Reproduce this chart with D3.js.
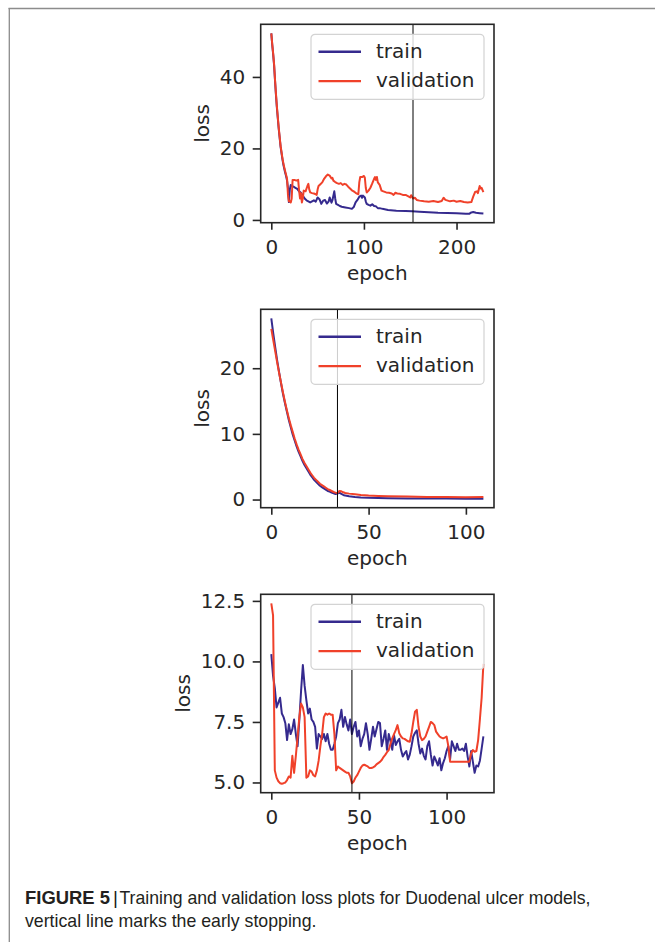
<!DOCTYPE html>
<html>
<head>
<meta charset="utf-8">
<script src="https://cdn.jsdelivr.net/npm/d3@7"></script>
<style>
  html, body { margin: 0; padding: 0; background: #fff; }
  svg { display: block; }
</style>
</head>
<body>
<svg id="fig" width="655" height="942"></svg>
<script>
// ---- data: [epoch, loss] ----
const p1Train = [[0,52.2],[1,49],[2,46.3],[3,43.3],[4,39],[5,35],[6,31.5],[7,28.5],[8,25.5],[9,23],[10,20.5],[11,18.8],[12,17],[13,15.5],[14,14.3],[15,13.2],[16,12.2],[17,11],[18,9],[19,5],[20,8.5],[21,9.8],[22,9.5],[24,9.3],[26,9],[28,8.7],[30,8],[32,7.6],[34,6.8],[36,6],[38,5.5],[40,5.2],[42,4.9],[44,5.2],[46,5.5],[48,5.1],[50,6.3],[52,5.8],[54,4.5],[56,5.4],[58,5.6],[60,4.6],[62,5.2],[63,6.3],[65,4.8],[66,5.5],[68,8],[69,6],[70,4.5],[72,4.2],[74,3.9],[76,3.7],[80,3.5],[84,3.3],[87,3.1],[89,3.6],[91,4.9],[93,5.6],[95,6.5],[97,6.8],[98,6.2],[99,6.8],[101,6.3],[102,5.2],[103,4.5],[105,4.2],[107,4],[109,4.4],[111,3.9],[113,3.8],[115,3.3],[117,3.3],[120,3.1],[126,2.8],[135,2.6],[145,2.5],[152,2.4],[160,2.3],[170,2.15],[180,2],[190,1.95],[200,1.85],[210,1.75],[214,1.75],[216,2.1],[218,2.2],[221,2],[225,1.9],[229,1.8]];
const p1Val = [[0,52.2],[1,49.2],[2,46.6],[3,43.6],[4,39.3],[5,35.4],[6,31.8],[7,28.8],[8,25.8],[9,23.3],[10,20.8],[11,19],[12,17.3],[13,15.9],[14,14.7],[15,13.6],[16,12.6],[17,11.5],[18,7],[19,5.2],[20,5.3],[21,4.9],[22,6],[23,11.2],[25,11.2],[27,11],[29,11.2],[30,8.2],[31,6],[32,7.5],[33,4.9],[34,6],[35,8.2],[37,8],[39,9.5],[40,10.1],[41,8.5],[42,7.7],[44,7.5],[46,7.4],[48,7.2],[49,7],[50,8.5],[51,9.5],[53,10],[55,10.5],[57,11.5],[59,12.2],[61,12.7],[63,12.4],[65,11.6],[66,11.8],[67,11],[69,10.6],[71,10.3],[73,10.1],[75,10.3],[77,9.8],[79,10.1],[81,9.9],[83,9.3],[85,8.8],[87,8.3],[89,8],[91,7.6],[93,7.3],[94,7.2],[95,10.5],[96,12],[98,12],[100,12.3],[101,11.8],[102,9],[103,7.7],[105,8.2],[107,9],[109,10.2],[111,11.5],[112,12],[113,11.2],[114,12],[115,10.5],[117,9.8],[119,8.2],[121,8],[124,7.7],[127,7.6],[130,7.4],[132,7],[134,7.6],[136,7.4],[139,7.3],[142,7],[145,7],[148,6.6],[150,6.3],[151,6.9],[153,6],[155,6.2],[157,5.6],[160,5.4],[165,5.2],[170,5.1],[175,5.3],[180,5],[184,5.3],[186,6.2],[188,5.6],[193,5.2],[197,5.4],[200,5.1],[204,5.3],[208,5],[212,4.9],[216,5],[218,6.5],[220,7.8],[222,8],[223,7.5],[225,9.5],[226,8.8],[227,9],[229,7.8]];

const p2Train = [[0,27.6],[1,25.3],[2,23.2],[3,21.2],[4,19.4],[5,17.7],[6,16.1],[7,14.7],[8,13.4],[9,12.1],[10,11],[11,9.9],[12,9],[13,8.1],[14,7.3],[15,6.6],[16,5.9],[17,5.3],[18,4.8],[19,4.3],[20,3.8],[21,3.4],[22,3],[23,2.7],[24,2.4],[25,2.1],[26,1.9],[27,1.7],[28,1.5],[29,1.3],[30,1.2],[31,1.05],[32,0.95],[33,0.85],[34,0.9],[35,1.05],[36,0.85],[37,0.7],[38,0.6],[40,0.5],[43,0.4],[46,0.32],[50,0.27],[55,0.22],[60,0.2],[70,0.17],[80,0.15],[90,0.14],[100,0.13],[109,0.13]];
const p2Val = [[0,26],[1,24.3],[2,22.6],[3,20.9],[4,19.3],[5,17.8],[6,16.3],[7,14.9],[8,13.6],[9,12.4],[10,11.3],[11,10.3],[12,9.3],[13,8.4],[14,7.6],[15,6.9],[16,6.2],[17,5.6],[18,5.1],[19,4.6],[20,4.1],[21,3.7],[22,3.3],[23,3],[24,2.7],[25,2.4],[26,2.2],[27,2],[28,1.8],[29,1.6],[30,1.45],[31,1.3],[32,1.15],[33,1.05],[34,1],[35,1.3],[36,1.25],[37,1.1],[38,1],[40,0.9],[43,0.8],[46,0.7],[50,0.6],[55,0.55],[60,0.5],[70,0.45],[80,0.4],[90,0.37],[100,0.35],[109,0.37]];

// panel 3: one value per epoch, epoch = index
const p3Train = [10.3,9.4,8.9,8.1,8.3,8.5,7.85,7.7,7.45,6.75,7.4,7,7.2,7.6,7,6.5,7.6,8.8,9.85,9,8.4,7.85,8.05,7.6,7.5,7.3,6.4,7,6.9,6.8,7,6.7,7,6.6,6.35,6.35,6.6,6.9,7.45,7.6,8,7.3,7.7,7.4,7.15,7.6,7,7.3,7.5,6.9,7.15,6.5,6.8,7,7.45,7,6.35,6.8,7.3,6.9,7.2,7.5,7.45,6.5,6.8,7.15,6.35,7,6.7,6.35,6.95,6.55,6.7,6.8,6.35,6.07,6.2,6.3,5.95,6.15,6.5,6.9,7.05,7.15,6.6,6.2,6.4,6.1,5.95,6.5,6.7,6.15,5.7,6.07,5.9,5.7,6,5.5,5.8,6,6.3,6.5,5.95,6.7,6.5,6.3,6.6,6.35,6.35,6.4,6.3,6.6,6.07,5.66,6.3,5.85,5.4,5.7,5.66,5.9,6.4,6.9];
const p3Val = [12.4,11.9,5.5,5.2,5.05,4.97,4.95,4.97,5,5.1,5.25,5.2,6.1,5.4,6.1,6.9,7.7,8.26,8.1,7.7,5.2,5.25,5.5,5.45,5.3,5.25,5.5,5.9,6.5,7,7.7,7.85,7.8,7.85,7.8,7.8,7,5.5,5.66,5.6,5.55,5.5,5.45,5.4,5.4,5.25,4.97,5.04,5.2,5.3,5.45,5.6,5.7,5.73,5.7,5.66,5.6,5.6,5.62,5.66,5.75,5.8,5.85,5.93,6.05,6.14,6.25,6.34,6.6,6.82,7,7.16,7.37,7.03,6.9,6.82,6.8,6.75,6.7,6.68,7.03,7.5,7.92,8,7.3,6.9,6.75,6.8,6.9,7.1,7.3,7.5,7.45,7.37,7.1,7,6.9,6.85,6.82,6.85,6.9,6.5,5.86,5.86,5.86,5.86,5.86,5.86,5.86,5.86,5.86,5.86,5.86,5.86,6.2,6.34,6.27,6.3,6.75,7.6,8.5,9.9];

const stopEpochs = [153, 34, 46];
const xTicks = [[0, 100, 200], [0, 50, 100], [0, 50, 100]];
const yTicks = [[0, 20, 40], [0, 10, 20], [5, 7.5, 10, 12.5]];
const yFormats = ['d', 'd', '.1f'];
const seriesNames = ['train', 'validation'];
const seriesColors = ['#352a8e', '#f0412a'];

// ---- layout ----
const svg = d3.select('#fig');
const axLeft = 260.7, axW = 233.3, axH = 198.4;
const panelTops = [24.3, 309.3, 594.3];
const ink = '#262626';
const font = 'DejaVu Sans, sans-serif';

// page frame
svg.append('line').attr('x1', 8.5).attr('x2', 655).attr('y1', 8.5).attr('y2', 8.5)
    .attr('stroke', '#8c8c8c').attr('stroke-width', 1.5);
svg.append('line').attr('x1', 9.3).attr('x2', 9.3).attr('y1', 8).attr('y2', 942)
    .attr('stroke', '#8c8c8c').attr('stroke-width', 1.3);

const toPoints = (s) => Array.isArray(s[0]) ? s : s.map((v, i) => [i, v]);

function padded(ext) {
    const m = (ext[1] - ext[0]) * 0.05;
    return [ext[0] - m, ext[1] + m];
}

function drawPanel(series, idx) {
    const top = panelTops[idx];
    const data = series.map(toPoints);
    const all = data.flat();
    const x = d3.scaleLinear().domain(padded(d3.extent(all, (d) => d[0]))).range([axLeft, axLeft + axW]);
    const y = d3.scaleLinear().domain(padded(d3.extent(all, (d) => d[1]))).range([top + axH, top]);

    const g = svg.append('g');

    // lines
    const line = d3.line().x((d) => x(d[0])).y((d) => y(d[1]));
    data.forEach((pts, i) => {
        g.append('path').datum(pts).attr('d', line)
            .attr('fill', 'none').attr('stroke', seriesColors[i])
            .attr('stroke-width', 2).attr('stroke-linejoin', 'round');
    });

    // early stopping line
    g.append('line').attr('x1', x(stopEpochs[idx])).attr('x2', x(stopEpochs[idx]))
        .attr('y1', top).attr('y2', top + axH).attr('stroke', '#000').attr('stroke-width', 1);

    // legend
    const lg = g.append('g').attr('transform', `translate(311, ${top + 10})`);
    lg.append('rect').attr('width', 173).attr('height', 65).attr('rx', 4)
        .attr('fill', '#fff').attr('fill-opacity', 0.8)
        .attr('stroke', '#d3d3d3').attr('stroke-width', 1.2);
    seriesNames.forEach((name, i) => {
        const ly = 17.5 + i * 29.3;
        lg.append('line').attr('x1', 7.5).attr('x2', 50).attr('y1', ly).attr('y2', ly)
            .attr('stroke', seriesColors[i]).attr('stroke-width', 2.4);
        lg.append('text').attr('x', 65).attr('y', ly + 6.3).text(name)
            .attr('font-family', font).attr('font-size', 20).attr('fill', ink);
    });

    // axes
    const xAxis = d3.axisBottom(x).tickValues(xTicks[idx]).tickSize(7).tickPadding(10).tickFormat(d3.format('d'));
    const yAxis = d3.axisLeft(y).tickValues(yTicks[idx]).tickSize(8).tickPadding(7.5).tickFormat(d3.format(yFormats[idx]));
    const gx = g.append('g').attr('transform', `translate(0, ${top + axH})`).call(xAxis);
    const gy = g.append('g').attr('transform', `translate(${axLeft}, 0)`).call(yAxis);
    [gx, gy].forEach((a) => {
        a.select('.domain').remove();
        a.selectAll('line').attr('stroke', ink).attr('stroke-width', 1.6);
        a.selectAll('text').attr('font-family', font).attr('font-size', 20).attr('fill', ink);
    });
    gx.selectAll('text').attr('dy', '0.71em');

    // frame
    g.append('rect').attr('x', axLeft).attr('y', top).attr('width', axW).attr('height', axH)
        .attr('fill', 'none').attr('stroke', ink).attr('stroke-width', 1.6);

    // axis titles
    g.append('text').attr('x', axLeft + axW / 2).attr('y', top + axH + 57.5)
        .attr('text-anchor', 'middle').text('epoch')
        .attr('font-family', font).attr('font-size', 20).attr('fill', ink);
    let widest = 0;
    gy.selectAll('text').each(function () { widest = Math.max(widest, this.getComputedTextLength()); });
    const lx = axLeft - 8 - 7.5 - widest - 10.8;
    g.append('text').attr('transform', `translate(${lx}, ${top + axH / 2}) rotate(-90)`)
        .attr('text-anchor', 'middle').text('loss')
        .attr('font-family', font).attr('font-size', 20).attr('fill', ink);
}

drawPanel([p1Train, p1Val], 0);
drawPanel([p2Train, p2Val], 1);
drawPanel([p3Train, p3Val], 2);

// caption
const capFont = 'Liberation Sans Narrow, Arial Narrow, Liberation Sans, Arial, sans-serif';
const cap = svg.append('g').attr('font-family', capFont).attr('font-size', 19).attr('fill', '#231f20');
cap.append('text').attr('x', 25).attr('y', 903.5).attr('font-weight', 'bold')
    .attr('textLength', 85).attr('lengthAdjust', 'spacingAndGlyphs').text('FIGURE 5');
cap.append('text').attr('x', 113).attr('y', 903.5).text('|');
cap.append('text').attr('x', 119.5).attr('y', 903.5)
    .attr('textLength', 471).attr('lengthAdjust', 'spacingAndGlyphs')
    .text('Training and validation loss plots for Duodenal ulcer models,');
cap.append('text').attr('x', 25).attr('y', 926.5)
    .attr('textLength', 291.5).attr('lengthAdjust', 'spacingAndGlyphs')
    .text('vertical line marks the early stopping.');
</script>
</body>
</html>
